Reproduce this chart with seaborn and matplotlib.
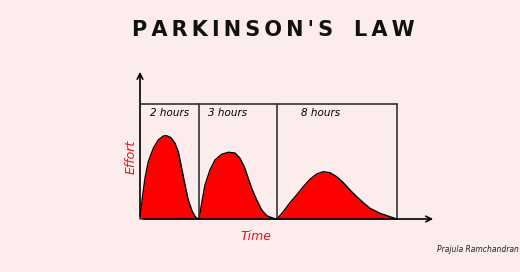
import matplotlib
matplotlib.use("Agg")
import matplotlib.pyplot as plt
import seaborn as sns
import pandas as pd

# ---- data (x: time position, y: effort) ----
task_labels = ["2 hours", "3 hours", "8 hours"]
box_edges = [0, 59, 137, 257]          # task boundaries along time axis
box_top = 115

c1_x = [0, 2.3, 5, 8.3, 13.3, 18.3, 23.3, 26.7, 31, 35, 38.3, 41.7, 45, 48.3, 52.3, 55.7, 58.5]
c1_y = [0, 20.7, 40.7, 57.3, 70.7, 79, 83, 83.3, 81.3, 75.7, 67.3, 50.7, 34, 19, 7.3, 1.7, 0]

c2_x = [59, 61.7, 65, 70, 75, 81.7, 88.3, 95, 100, 104.3, 107.7, 111.7, 116.7, 121.7, 126.7, 133.3, 137]
c2_y = [0, 15.7, 34, 49, 59, 64.7, 66.7, 66, 60.7, 52.3, 42.3, 30.7, 19, 9, 3.3, 0.7, 0]

c3_x = [137, 143.3, 150, 156.7, 163.3, 170, 176.7, 183.3, 190, 196.7, 203.3, 210, 216.7, 223.3, 230, 240, 250, 256.7]
c3_y = [0, 7.3, 16.3, 24, 32.3, 39.7, 45, 47.3, 46.3, 42.3, 36.3, 29, 22.3, 16.3, 10.7, 5.7, 2.3, 0]

curves = [(c1_x, c1_y), (c2_x, c2_y), (c3_x, c3_y)]

bg = "#FCECEC"
sns.set_style("white")
fig = plt.figure(figsize=(5.2, 2.72), dpi=100)
fig.patch.set_facecolor(bg)
ax = fig.add_axes([0, 0, 1, 1])
ax.set_facecolor(bg)
ax.set_xlim(-140, 380)
ax.set_ylim(-53, 219)
ax.axis("off")

# curves
for cx, cy in curves:
    df = pd.DataFrame({"t": cx, "e": cy})
    ax.fill_between(df["t"], 0, df["e"], color="#FF0000", lw=0, zorder=2)
    sns.lineplot(data=df, x="t", y="e", sort=False, color="black", lw=1.0, ax=ax, zorder=3)

# box
line_c = "#333333"
ax.plot([box_edges[0], box_edges[-1]], [box_top, box_top], color=line_c, lw=1.2, zorder=4)
for xe in box_edges[1:]:
    ax.plot([xe, xe], [0, box_top], color=line_c, lw=1.2, zorder=4)

# axes arrows
ax.annotate("", xy=(0, 150), xytext=(0, 0),
            arrowprops=dict(arrowstyle="->", color="black", lw=1.2, mutation_scale=10), zorder=5)
ax.annotate("", xy=(296, 0), xytext=(0, 0),
            arrowprops=dict(arrowstyle="->", color="black", lw=1.2, mutation_scale=10), zorder=5)

# task labels
label_x = [10, 68, 161]
for lx, lab in zip(label_x, task_labels):
    ax.text(lx, 106, lab, fontsize=7.5, style="italic", color="black", ha="left", va="center",
            family="DejaVu Sans")

# axis labels
ax.text(116, -17, "Time", fontsize=9, style="italic", color="#E8141B", ha="center", va="center")
ax.text(-9, 62, "Effort", fontsize=9, style="italic", color="#E8141B", ha="center", va="center",
        rotation=90)

# title (letter-spaced)
words = ["PARKINSON'S", "LAW"]
title = "\u2003".join("\u2009".join(w) for w in words)
ax.text(133, 189, title, fontsize=15, fontweight="bold", color="#111111", ha="center", va="center",
        family="DejaVu Sans")

# signature
ax.text(297, -31, "Prajula Ramchandran", fontsize=5.5, style="italic", color="#222222",
        ha="left", va="center")

fig.savefig("out.png", dpi=100, facecolor=bg)
